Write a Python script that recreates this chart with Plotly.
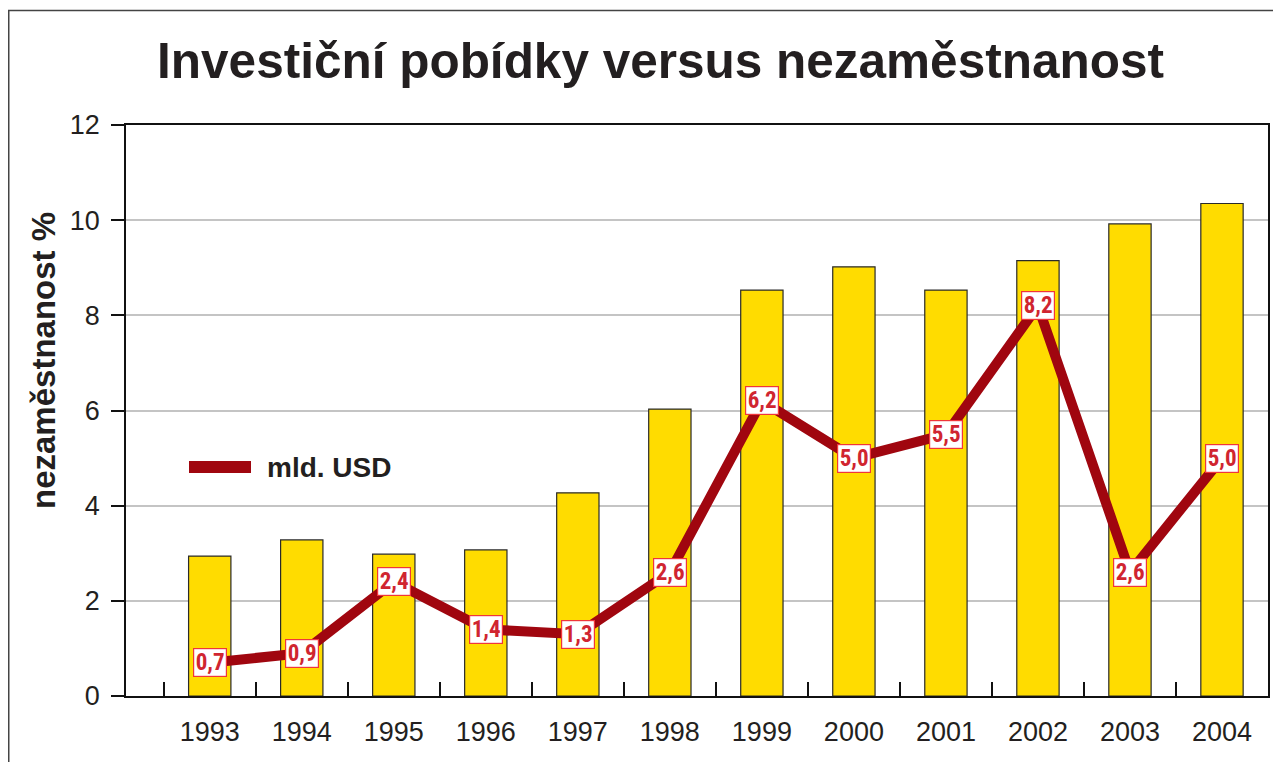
import plotly.graph_objects as go

years = ["1993", "1994", "1995", "1996", "1997", "1998", "1999", "2000", "2001", "2002", "2003", "2004"]
unemployment = [2.94, 3.28, 2.98, 3.07, 4.27, 6.03, 8.53, 9.02, 8.53, 9.15, 9.92, 10.35]
investment = [0.7, 0.9, 2.4, 1.4, 1.3, 2.6, 6.2, 5.0, 5.5, 8.2, 2.6, 5.0]
y_ticks = [0, 2, 4, 6, 8, 10, 12]

title_text = "Investiční pobídky versus nezaměstnanost"
y_title = "nezaměstnanost %"
legend_text = "mld. USD"

YELLOW = "#FFDC00"
DARKRED = "#A0060F"
LABELRED = "#D02530"
TEXT = "#231F20"
BASE_FONT = "Liberation Sans, Arial, Helvetica, sans-serif"
NARROW_FONT = "Roboto Condensed, Open Sans Condensed, Liberation Sans, sans-serif"

# the page body adds an 8px offset, so the figure is 8px smaller than the window
W, H = 1273, 754
L, R, T, B = 118, 13, 117, 66
PW, PH = W - L - R, H - T - B

fig = go.Figure()
fig.add_trace(go.Bar(
    x=years, y=unemployment, width=0.46,
    marker=dict(color=YELLOW, line=dict(color="#2a2a2a", width=1.2)),
    showlegend=False, hoverinfo="x+y",
))
fig.add_trace(go.Scatter(
    x=years, y=investment, mode="lines",
    line=dict(color=DARKRED, width=10),
    showlegend=False,
))

for i, v in enumerate(investment):
    fig.add_annotation(
        x=i, y=v, xref="x", yref="y",
        text=f"{v:.1f}".replace(".", ","),
        showarrow=False,
        font=dict(family=NARROW_FONT, size=23, color=LABELRED, weight="bold"),
        bgcolor="white", bordercolor="#F0363A", borderwidth=1.2, borderpad=0,
        width=32, height=27, align="center", valign="middle",
        xanchor="center", yanchor="middle",
    )

# y-axis title
fig.add_annotation(
    x=(35 - L) / PW, y=(T + PH - 353) / PH, xref="paper", yref="paper",
    text=y_title, textangle=-90, showarrow=False,
    font=dict(family=BASE_FONT, size=33, color=TEXT, weight="bold"),
    xanchor="center", yanchor="middle",
)

# legend
leg_y = (T + PH - 459) / PH
fig.add_shape(type="line", xref="paper", yref="paper",
              x0=(181 - L) / PW, x1=(243 - L) / PW, y0=leg_y, y1=leg_y,
              line=dict(color=DARKRED, width=12))
fig.add_annotation(
    x=(257 - L) / PW, y=leg_y, xref="paper", yref="paper",
    text=legend_text, showarrow=False,
    font=dict(family=BASE_FONT, size=28, color=TEXT, weight="bold"),
    xanchor="left", yanchor="middle",
)

# outer frame
fig.add_shape(type="rect", xref="paper", yref="paper",
              x0=(0.75 - L) / PW, x1=1.2, y0=(T + PH - 2.5) / PH, y1=-0.3,
              line=dict(color="#444444", width=1.5), layer="below")

fig.update_layout(
    width=W, height=H,
    margin=dict(l=L, r=R, t=T, b=B, autoexpand=False),
    paper_bgcolor="white", plot_bgcolor="white",
    title=dict(text=title_text, x=652.5 / W, xanchor="center", xref="container",
               y=1 - 52.5 / H, yanchor="middle",
               font=dict(family=BASE_FONT, size=49.5, color=TEXT, weight="bold")),
    font=dict(family=BASE_FONT, color=TEXT),
)
fig.update_xaxes(
    type="category", range=[-0.91, 11.5], automargin=False,
    showline=True, linecolor="#111111", linewidth=1.5, mirror=True,
    ticks="inside", tickson="boundaries", ticklen=14, tickcolor="#111111", tickwidth=1.5,
    tickfont=dict(family=BASE_FONT, size=27, color=TEXT),
    ticklabelstandoff=11,
    showgrid=False,
)
fig.update_yaxes(
    range=[0, 12], tickvals=y_ticks, automargin=False,
    showline=True, linecolor="#111111", linewidth=1.5, mirror=True,
    ticks="outside", ticklen=13, tickcolor="#111111", tickwidth=1.5,
    tickfont=dict(family=BASE_FONT, size=27, color=TEXT),
    ticklabelstandoff=6,
    showgrid=True, gridcolor="#C4C4C4", gridwidth=1.5,
    zeroline=False,
)

fig.write_html("out.html")
